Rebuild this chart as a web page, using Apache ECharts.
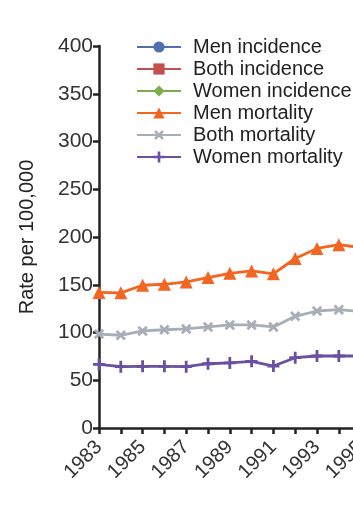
<!DOCTYPE html>
<html>
<head>
<meta charset="utf-8">
<script src="https://cdn.jsdelivr.net/npm/echarts@6/dist/echarts.min.js"></script>
<style>
html,body{margin:0;padding:0;background:#fff;}
#chart{width:353px;height:510px;}
</style>
</head>
<body>
<div id="chart"></div>
<script>
const years = ['1983','1984','1985','1986','1987','1988','1989','1990','1991','1992','1993','1994','1995'];
const menIncidence = [null,null,null,null,null,null,null,null,null,null,null,null,null];
const bothIncidence = [null,null,null,null,null,null,null,null,null,null,null,null,null];
const womenIncidence = [null,null,null,null,null,null,null,null,null,null,null,null,null];
const menMortality = [142, 141.5, 149.5, 150.5, 153, 157.5, 162, 164.5, 161.5, 177.5, 188, 192, 189];
const bothMortality = [98.4, 97.1, 101.6, 102.9, 103.7, 105.8, 107.9, 107.9, 105.8, 117, 122.5, 123.9, 122];
const womenMortality = [66.7, 64.2, 64.6, 64.6, 64.2, 67.3, 68.1, 69.8, 64.9, 73.6, 75.4, 75.4, 75.4];
const yTicks = [0, 50, 100, 150, 200, 250, 300, 350, 400];

const plusPath = 'path://M-1.4,-6 L1.4,-6 L1.4,-1.4 L6,-1.4 L6,1.4 L1.4,1.4 L1.4,6 L-1.4,6 L-1.4,1.4 L-6,1.4 L-6,-1.4 L-1.4,-1.4 Z';

const chart = echarts.init(document.getElementById('chart'), null, {renderer:'canvas'});

function mk(name, data, color, symbol, size, rotate) {
  return {
    name: name, type: 'line', data: data,
    symbol: symbol, symbolSize: size, symbolRotate: rotate || 0,
    showAllSymbol: true,
    lineStyle: {color: color, width: 2.8},
    itemStyle: {color: color},
    emphasis: {disabled: true},
    animation: false
  };
}

const option = {
  animation: false,
  grid: {left: 99, top: 46, height: 382, width: 261.6, containLabel: false, outerBoundsMode: 'none'},
  legend: {
    orient: 'vertical', left: 136, top: 37, padding: 0,
    itemWidth: 44, itemHeight: 14, itemGap: 2,
    textStyle: {fontFamily: 'Liberation Sans', fontSize: 20, lineHeight: 20, color: '#222', padding: [0,0,0,7]},
    data: ['Men incidence','Both incidence','Women incidence','Men mortality','Both mortality','Women mortality']
  },
  xAxis: {
    type: 'category', data: years, boundaryGap: false,
    axisLine: {lineStyle: {color: '#222', width: 2.5}},
    axisTick: {show: true, interval: 0, length: 6, lineStyle: {color: '#222', width: 2.5}},
    axisLabel: {interval: 1, rotate: 45, margin: 16, fontFamily: 'Liberation Sans', fontSize: 20, color: '#333'},
    splitLine: {show: false}
  },
  yAxis: {
    type: 'value', min: yTicks[0], max: yTicks[yTicks.length-1], interval: 50,
    name: 'Rate per 100,000', nameLocation: 'middle', nameGap: 62, nameRotate: 90,
    nameTextStyle: {fontFamily: 'Liberation Sans', fontSize: 20, color: '#222'},
    axisLine: {show: true, lineStyle: {color: '#222', width: 2.5}},
    axisTick: {show: true, length: 6, lineStyle: {color: '#222', width: 2.5}},
    axisLabel: {margin: 6, fontFamily: 'Liberation Sans', fontSize: 21, color: '#333'},
    splitLine: {show: false}
  },
  series: [
    mk('Men incidence', menIncidence, '#4F6FAE', 'circle', 11),
    mk('Both incidence', bothIncidence, '#C1504F', 'rect', 10),
    mk('Women incidence', womenIncidence, '#7CAF4A', 'diamond', 12),
    mk('Men mortality', menMortality, '#F26522', 'triangle', 13),
    mk('Both mortality', bothMortality, '#A8AEB8', plusPath, 12, 45),
    mk('Women mortality', womenMortality, '#6B4FA0', plusPath, 12)
  ]
};
chart.setOption(option);
</script>
</body>
</html>
